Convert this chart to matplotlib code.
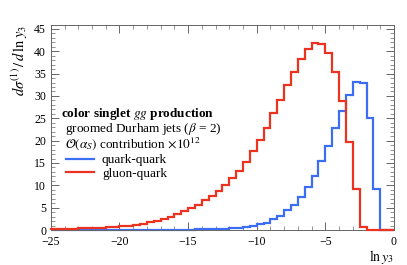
import numpy as np
import matplotlib
matplotlib.use("Agg")
import matplotlib.pyplot as plt
from matplotlib.ticker import MultipleLocator

plt.rcParams['font.family'] = ['Liberation Serif', 'DejaVu Serif']
plt.rcParams['mathtext.fontset'] = 'stix'

# bin edges in ln y3 (width 0.5)
edges = np.arange(-25.0, 0.001, 0.5)

# quark-quark, one value per bin
quark_quark = [0.0, 0.0, 0.0, 0.0, 0.0, 0.01, 0.01, 0.01, 0.02, 0.02, 0.03,
               0.03, 0.04, 0.04, 0.05, 0.05, 0.06, 0.07, 0.08, 0.09, 0.1, 0.12,
               0.14, 0.17, 0.2, 0.25, 0.35, 0.5, 0.7, 0.9, 1.3, 1.6,
               2.5, 3.2, 4.5, 5.7, 7.5, 9.7, 12.2, 15.4, 18.9, 22.8,
               26.7, 30.2, 33.1, 32.8, 25.1, 9.2, 0.0, 0.0]

# gluon-quark
gluon_quark = [0.15, 0.2, 0.25, 0.3, 0.35, 0.4, 0.45, 0.55, 0.6, 0.7, 0.8,
               0.95, 1.1, 1.3, 1.7, 2.1, 2.5, 3.0, 3.6, 4.25, 4.9, 5.7,
               6.7, 7.6, 8.8, 10.1, 11.6, 13.3, 15.3, 17.7, 20.1, 22.9,
               26.1, 29.1, 32.4, 35.4, 38.3, 40.5, 41.8, 41.6, 39.7, 35.4,
               28.9, 19.8, 9.2, 0.6, 0.0, 0.0, 0.0, 0.0]

blue = '#3b6ef5'
red = '#eb3320'

fig = plt.figure(figsize=(4.07, 2.65), dpi=100)
ax = fig.add_axes([0.125, 0.132, 0.843, 0.774])

ax.stairs(quark_quark, edges, color=blue, lw=1.6, label='quark-quark',
          clip_on=False, zorder=2)
ax.stairs(gluon_quark, edges, color=red, lw=1.6, label='gluon-quark',
          clip_on=False, zorder=3)

ax.set_xlim(-25, 0)
ax.set_ylim(0, 45.9)
ax.xaxis.set_major_locator(MultipleLocator(5))
ax.xaxis.set_minor_locator(MultipleLocator(1))
ax.yaxis.set_major_locator(MultipleLocator(5))
ax.yaxis.set_minor_locator(MultipleLocator(1))
ax.tick_params(which='both', direction='in', top=True, right=True,
               color='#666666', labelsize=8.5)
ax.tick_params(axis='x', pad=4.5)
ax.tick_params(which='major', length=6, width=0.7)
ax.tick_params(which='minor', length=3, width=0.5)
for s in ax.spines.values():
    s.set_color('#666666')
    s.set_linewidth(0.7)

ax.set_xlabel(r'$\ln y_3$', fontsize=10, loc='right', labelpad=-0.5)
ax.set_ylabel(r'$d\sigma^{(1)}\,/\,d\,\ln y_3$', fontsize=10.5, loc='top', labelpad=3)

fs = 9.5
ax.text(0.029, 0.553, r'color singlet $gg$ production', transform=ax.transAxes,
        fontsize=fs, fontweight='bold', va='baseline')
ax.text(0.041, 0.480, r'groomed Durham jets ($\beta$ = 2)', transform=ax.transAxes,
        fontsize=fs, va='baseline')
ax.text(0.041, 0.402, r'$\mathcal{O}(\alpha_S)$ contribution $\times10^{12}$',
        transform=ax.transAxes, fontsize=fs, va='baseline')

ax.legend(loc='upper left', bbox_to_anchor=(0.045, 0.37), frameon=False,
          fontsize=fs, handlelength=2.1, handletextpad=0.6, labelspacing=0.1,
          borderpad=0, borderaxespad=0)

fig.savefig('out.png', dpi=100)
